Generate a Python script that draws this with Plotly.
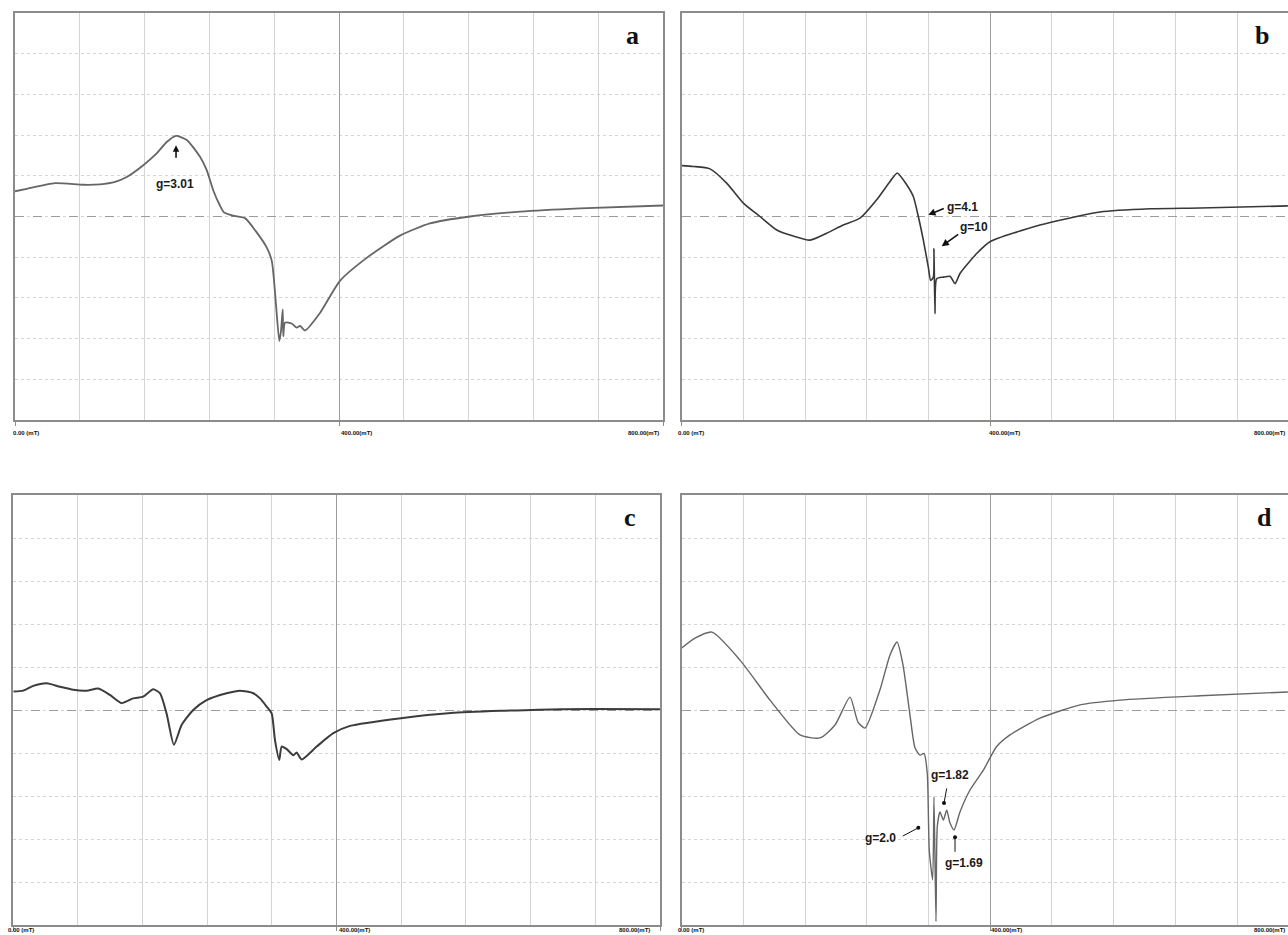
import plotly.graph_objects as go

# ---- spectra (field in mT, signal in grid divisions) ----
field_a = [0, 14.4, 49.4, 84.3, 105.0, 123.5, 137.9, 158.4, 174.9, 187.3,
           198.8, 212.0, 228.4, 236.7, 244.8, 253.0, 258.1, 269.1, 283.9, 298.4,
           310.7, 317.0, 319.8, 322.2, 326.3, 328.4, 330.5, 331.2, 333.3, 341.6,
           347.8, 351.9, 358.0, 376.5, 401.2, 434.6, 475.3, 512.3, 561.7, 623.5,
           697.5, 800.0]
signal_a = [0.62, 0.68, 0.82, 0.78, 0.79, 0.85, 0.97, 1.26, 1.55, 1.83,
            1.98, 1.88, 1.47, 1.14, 0.64, 0.27, 0.10, 0.02, -0.04, -0.39,
            -0.76, -1.09, -1.58, -2.16, -3.06, -2.81, -2.28, -2.94, -2.61, -2.63,
            -2.73, -2.69, -2.80, -2.37, -1.58, -1.01, -0.47, -0.17, 0.0, 0.12,
            0.20, 0.27]

field_b = [0, 15, 36.7, 58.3, 79.9, 101.5, 123.2, 144.7, 166.4, 188,
           209.5, 231.2, 252.8, 270.1, 279.5, 291.7, 300.3, 306.8, 313.3, 319.7,
           322.8, 326.3, 327.1, 328.4, 330.6, 339.2, 347.9, 354.4, 360.8, 382.5,
           399.7, 464.6, 542.4, 607.3, 672.1, 786]
signal_b = [1.25, 1.23, 1.17, 0.82, 0.33, 0.0, -0.33, -0.48, -0.58, -0.41,
            -0.21, -0.04, 0.41, 0.86, 1.07, 0.78, 0.49, 0.0, -0.58, -1.24,
            -1.57, -1.49, -0.79, -2.39, -1.53, -1.49, -1.47, -1.65, -1.40, -0.91,
            -0.62, -0.21, 0.11, 0.19, 0.21, 0.26]

field_c = [0, 12.4, 24.7, 41.2, 57.7, 74.2, 90.7, 105.1, 119.6, 134,
           148.4, 160.8, 173.1, 181.4, 189.6, 198.7, 208.2, 222.6, 239.1, 263.9,
           280.4, 296.9, 305.2, 313.4, 319.6, 323.7, 329.0, 332.0, 338.2, 346.4,
           350.5, 356.7, 375.3, 395.9, 416.6, 479.6, 541.5, 603.3, 677.5, 800]
signal_c = [0.43, 0.45, 0.56, 0.62, 0.54, 0.47, 0.45, 0.50, 0.35, 0.16,
            0.27, 0.31, 0.48, 0.39, -0.08, -0.81, -0.35, 0.0, 0.23, 0.39,
            0.45, 0.39, 0.27, 0.08, -0.08, -0.70, -1.16, -0.85, -0.91, -1.05,
            -0.99, -1.15, -0.85, -0.54, -0.37, -0.19, -0.07, -0.02, 0.02, 0.02]

field_d = [0, 17.2, 39.3, 75.6, 114.5, 153.4, 179.3, 198.8, 218.2, 228.6,
           237.7, 257.1, 270.1, 279.2, 286.9, 296.0, 302.5, 309.0, 314.2, 318.4,
           321.0, 325.4, 327.1, 329.7, 331.4, 334.9, 339.2, 343.6, 347.9, 353.1,
           360.8, 373.8, 391.1, 408.4, 425.7, 464.6, 516.5, 568.3, 672.1, 786]
signal_d = [1.44, 1.67, 1.81, 1.16, 0.23, -0.58, -0.65, -0.35, 0.30, -0.28,
            -0.42, 0.47, 1.28, 1.58, 1.05, -0.12, -0.88, -1.05, -1.01, -1.47,
            -3.26, -3.95, -2.02, -4.92, -2.71, -2.37, -2.56, -2.33, -2.63, -2.79,
            -2.37, -1.86, -1.40, -0.85, -0.58, -0.19, 0.12, 0.23, 0.33, 0.42]

panel_letters = ["a", "b", "c", "d"]
field_labels = ["0.00 (mT)", "400.00(mT)", "800.00(mT)"]
field_ticks = [0, 400, 800]

W, H = 1288, 935
GRID_MINOR = "#d4d4d4"
GRID_MAJOR = "#9c9c9c"
FRAME = "#8c8c8c"


def x_axis(domain, rng, anchor):
    return dict(domain=domain, range=rng, anchor=anchor, showticklabels=False,
                tickmode="array", tickvals=field_ticks, ticks="outside", ticklen=4,
                tickcolor=FRAME, tickwidth=1,
                showgrid=True, gridcolor=GRID_MAJOR, gridwidth=1,
                minor=dict(tick0=0, dtick=80, showgrid=True, gridcolor=GRID_MINOR,
                           gridwidth=1, ticks=""),
                showline=True, linecolor=FRAME, linewidth=2, mirror=True,
                zeroline=False, fixedrange=True)


def y_axis(domain, anchor, mirror=True):
    return dict(domain=domain, range=[-5, 5], anchor=anchor, showticklabels=False,
                tickmode="array", tickvals=[0], ticks="",
                showgrid=True, gridcolor=GRID_MAJOR, gridwidth=1, griddash="dash",
                minor=dict(tick0=-5, dtick=1, showgrid=True, gridcolor=GRID_MINOR,
                           gridwidth=1, griddash="dot", ticks=""),
                showline=True, linecolor=FRAME, linewidth=2, mirror=mirror,
                zeroline=False, fixedrange=True)


# panel frames (pixel positions turned into paper fractions)
top_y = [1 - 420 / H, 1 - 13 / H]
bot_y = [1 - 925 / H, 1 - 495 / H]
dom_a = [15 / W, 663 / W]
dom_b = [681.7 / W, 1.0]
dom_c = [13.3 / W, 660 / W]
dom_d = [681.7 / W, 1.0]
right_max = (W - 681.7) / 617 * 800  # field visible in the right-hand panels

fig = go.Figure()
curves = [
    (field_a, signal_a, "x", "y", "#666666", 1.8),
    (field_b, signal_b, "x2", "y2", "#383838", 1.6),
    (field_c, signal_c, "x3", "y3", "#3c3c3c", 2.0),
    (field_d, signal_d, "x4", "y4", "#666666", 1.4),
]
for fx, sy, xa, ya, col, lw in curves:
    fig.add_trace(go.Scatter(x=fx, y=sy, xaxis=xa, yaxis=ya, mode="lines",
                             line=dict(color=col, width=lw, shape="spline",
                                       smoothing=0.6),
                             showlegend=False, hoverinfo="skip"))

fig.update_layout(
    width=W, height=H, margin=dict(l=0, r=0, t=0, b=0),
    paper_bgcolor="white", plot_bgcolor="white",
    xaxis=x_axis(dom_a, [0, 800], "y"),
    yaxis=y_axis(top_y, "x"),
    xaxis2=x_axis(dom_b, [0, right_max], "y2"),
    yaxis2=y_axis(top_y, "x2", mirror=False),
    xaxis3=x_axis(dom_c, [0, 800], "y3"),
    yaxis3=y_axis(bot_y, "x3"),
    xaxis4=x_axis(dom_d, [0, right_max], "y4"),
    yaxis4=y_axis(bot_y, "x4", mirror=False),
)

ann = []
lab_font = dict(family="Liberation Sans", size=12, color="#1a1a1a")
letter_font = dict(family="Liberation Serif", size=26, color="#111111")

# panel letters
for letter, (px, py) in zip(panel_letters, [(632, 35), (1262, 35), (630, 517), (1264, 517)]):
    ann.append(dict(xref="paper", yref="paper", x=px / W, y=1 - py / H,
                    text="<b>%s</b>" % letter, showarrow=False, font=letter_font,
                    xanchor="center", yanchor="middle"))

# field labels under each panel
tick_font = dict(family="Liberation Sans", size=6, color="#111111")
edge = (W - 1 - 681.7) / (W - 681.7)
label_pos = {
    "x": ([-0.006, 0.5, 0.997], -0.032, "y"),
    "x2": ([-0.009, 0.503, edge], -0.032, "y2"),
    "x3": ([-0.011, 0.5, 0.987], -0.0105, "y3"),
    "x4": ([-0.009, 0.507, edge], -0.0105, "y4"),
}
for xa, (xs, yv, ya) in label_pos.items():
    for txt, xv, anc in zip(field_labels, xs, ["left", "left", "right"]):
        ann.append(dict(xref=xa + " domain", yref=ya + " domain", x=xv, y=yv,
                        text="<b>%s</b>" % txt, showarrow=False, font=tick_font,
                        xanchor=anc, yanchor="middle"))

# g-value markers: arrows (a, b) and pins (d)
arrows = [
    ("x", "y", 198.8, 1.75, 0, 14, 2, 1.6, 0.8),
    ("x2", "y2", 319.7, 0.04, 17, -7, 2, 1.6, 0.9),
    ("x2", "y2", 337.1, -0.73, 18, -13, 2, 1.6, 0.9),
    ("x4", "y4", 306.8, -2.74, -17, 9, 6, 1.0, 1.0),
    ("x4", "y4", 340.1, -2.16, 3, -16, 6, 1.0, 1.0),
    ("x4", "y4", 354.4, -2.96, 0, 16, 6, 1.0, 1.0),
]
for xa, ya, xv, yv, axp, ayp, head, aw, asz in arrows:
    ann.append(dict(xref=xa, yref=ya, x=xv, y=yv, ax=axp, ay=ayp, text="",
                    showarrow=True, arrowhead=head, arrowsize=asz, arrowwidth=aw,
                    arrowcolor="#111111", standoff=0, startstandoff=0))

g_texts = [
    ("x", "y", 197.5, 0.81, "g=3.01", "center"),
    ("x2", "y2", 341.4, 0.24, "g=4.1", "left"),
    ("x2", "y2", 358.2, -0.25, "g=10", "left"),
    ("x4", "y4", 280.4, -2.98, "g=2.0", "right"),
    ("x4", "y4", 348.1, -1.51, "g=1.82", "center"),
    ("x4", "y4", 365.4, -3.56, "g=1.69", "center"),
]
for xa, ya, xv, yv, txt, anc in g_texts:
    ann.append(dict(xref=xa, yref=ya, x=xv, y=yv, text="<b>%s</b>" % txt,
                    showarrow=False, font=lab_font, xanchor=anc, yanchor="middle"))

fig.update_layout(annotations=ann)
fig.write_html("out.html")
